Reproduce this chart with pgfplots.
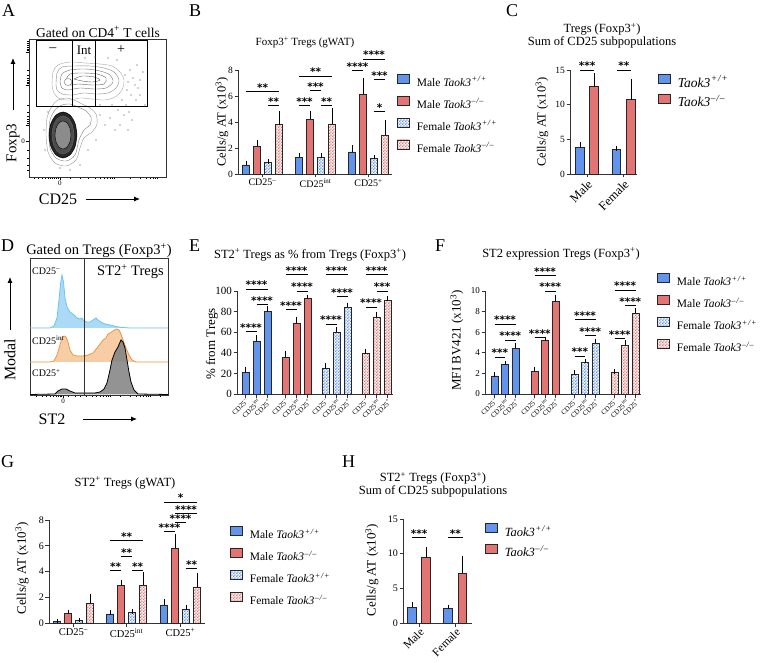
\documentclass[border=0pt]{standalone}
\usepackage{fontspec}
\setmainfont{Liberation Serif}
\newfontfamily\starfont{DejaVu Sans}
\usepackage{pgfplots}
\pgfplotsset{compat=1.18}
\usetikzlibrary{patterns,arrows.meta}

\definecolor{mblue}{RGB}{98,148,236}
\definecolor{mred}{RGB}{226,116,116}
\definecolor{hbluef}{RGB}{170,218,246}
\definecolor{hbluel}{RGB}{110,195,240}
\definecolor{horf}{RGB}{246,205,165}
\definecolor{horl}{RGB}{236,150,65}

\pgfdeclarepatternformonly{chk}{\pgfqpoint{0pt}{0pt}}{\pgfqpoint{3.2pt}{3.2pt}}{\pgfqpoint{3.2pt}{3.2pt}}{%
 \pgfpathrectangle{\pgfqpoint{0pt}{0pt}}{\pgfqpoint{1.6pt}{1.6pt}}%
 \pgfpathrectangle{\pgfqpoint{1.6pt}{1.6pt}}{\pgfqpoint{1.6pt}{1.6pt}}%
 \pgfusepath{fill}}

\newcommand{\fs}[1]{\fontsize{#1}{#1}\selectfont}
\newcommand{\sfnt}{\starfont\bfseries\fontsize{10.5}{10.5}\selectfont}
\newcommand{\wt}{\textit{Taok3}\textsuperscript{\textit{\kern0.5pt+\kern0.8pt/\kern0.8pt+}}}
\newcommand{\ko}{\textit{Taok3}\textsuperscript{\textit{\kern0.5pt–\kern0.8pt/\kern0.8pt–}}}
\newcommand{\sig}[4]{\addplot[sg] coordinates {(#1,#3) (#2,#3)} node[pos=0.5, anchor=base, inner sep=0pt, font=\sfnt] {#4};}

\pgfplotsset{
 gp/.style={scale only axis, clip=false, anchor=south west, axis x line*=bottom, axis y line*=left,
   tick align=outside, ymin=0, axis line style={line width=0.9pt, black!80}, major tick length=3.5pt,
   tick style={line width=0.9pt, black!80}, /pgf/number format/assume math mode=true,
   ticklabel style={inner sep=1.5pt}, legend cell align=left,
   legend style={anchor=north west, draw=none, fill=none, inner sep=0pt, nodes={inner sep=1pt},
     /tikz/every odd column/.append style={column sep=6pt}}},
 bb/.style={ybar, bar shift=0pt, draw=black!85, line width=0.7pt,
   error bars/y dir=plus, error bars/y explicit,
   error bars/error bar style={line width=0.7pt, black},
   error bars/error mark options={line width=0.7pt, black, mark size=2.3pt},
   legend image code/.code={\draw[##1] (0pt,-1pt) rectangle (12pt,8pt);}},
 mwt/.style={bb, fill=mblue},
 mko/.style={bb, fill=mred},
 fwt/.style={bb, pattern=chk, pattern color=mblue},
 fko/.style={bb, pattern=chk, pattern color=mred},
 sg/.style={black, line width=0.75pt, forget plot, mark=none, sharp plot},
 flow/.style={scale only axis, clip=false, anchor=south west, axis line style={line width=0.8pt, black!80},
   tick pos=left, tick align=outside, major tick length=3pt, minor tick length=1.6pt,
   tick style={line width=0.6pt, black}, /pgf/number format/assume math mode=true,
   ticklabel style={font=\fs{7}, inner sep=1pt}},
}

\begin{document}
\begin{tikzpicture}[x=1pt,y=1pt]
\path[use as bounding box] (0,0) rectangle (763,662);

% panel letters
\node[anchor=base west, inner sep=0pt, font=\fs{18}] at (2,645) {A};
\node[anchor=base west, inner sep=0pt, font=\fs{18}] at (189,645) {B};
\node[anchor=base west, inner sep=0pt, font=\fs{18}] at (506,645) {C};
\node[anchor=base west, inner sep=0pt, font=\fs{18}] at (1,410) {D};
\node[anchor=base west, inner sep=0pt, font=\fs{18}] at (189,410) {E};
\node[anchor=base west, inner sep=0pt, font=\fs{18}] at (435,410) {F};
\node[anchor=base west, inner sep=0pt, font=\fs{18}] at (1,195) {G};
\node[anchor=base west, inner sep=0pt, font=\fs{18}] at (342,195) {H};

% ================= A =================
\begin{axis}[flow, at={(29pt,485pt)}, width=137pt, height=138pt,
  xmin=29, xmax=166, ymin=-177, ymax=-39,
  xtick={60}, xticklabels={0}, ytick={-141,-125,-85,-52}, yticklabels={0,,,},
  minor xtick={34,38,42,45,48,50,52,54,56,58,70,80,88,95,100,104,107,110,112,114,130,140,146,150,153,155,157},
  minor ytick={-41,-43,-45,-47,-49,-50,-70,-75,-78,-80,-82,-83,-105,-112,-116,-119,-121,-123,-150,-158,-165,-170}]
\addplot[draw=black!40, line width=0.4pt, smooth] coordinates {(46,-135) (47,-118) (52,-106) (58,-100) (66,-98) (74,-100) (82,-104) (90,-108) (96,-114) (97,-124) (92,-132) (84,-138) (80,-148) (76,-160) (66,-166) (55,-163) (48,-152) (46,-135)};
\addplot[draw=black!50, line width=0.4pt, smooth] coordinates {(49,-135) (50,-120) (55,-110) (62,-105) (70,-104) (78,-107) (86,-111) (91,-117) (90,-125) (84,-130) (79,-140) (75,-155) (66,-161) (56,-158) (50,-148) (49,-135)};
\addplot[draw=black, fill=black!85, line width=0.5pt, smooth] coordinates {(77,-135) (75.1,-146.5) (70,-154.9) (63,-158) (56,-154.9) (50.9,-146.5) (49,-135) (50.9,-123.5) (56,-115.1) (63,-112) (70,-115.1) (75.1,-123.5) (77,-135)};
\addplot[draw=black!60, fill=black!70, line width=0.4pt, smooth] coordinates {(74,-135) (72.5,-144.5) (68.5,-151.5) (63,-154) (57.5,-151.5) (53.5,-144.5) (52,-135) (53.5,-125.5) (57.5,-118.5) (63,-116) (68.5,-118.5) (72.5,-125.5) (74,-135)};
\addplot[draw=black, fill=black!45, line width=0.4pt, smooth] coordinates {(71,-135) (69.9,-142) (67,-147.1) (63,-149) (59,-147.1) (56.1,-142) (55,-135) (56.1,-128) (59,-122.9) (63,-121) (67,-122.9) (69.9,-128) (71,-135)};
\addplot[draw=black!35, line width=0.4pt, smooth] coordinates {(52,-85) (53,-72) (58,-65) (70,-62) (85,-63) (100,-64) (112,-66) (120,-72) (124,-80) (122,-90) (115,-97) (105,-100) (92,-99) (80,-98) (70,-100) (60,-99) (54,-93) (52,-85)};
\addplot[draw=black!45, line width=0.4pt, smooth] coordinates {(56,-84) (57,-73) (62,-67) (75,-66) (90,-66) (104,-68) (114,-72) (119,-80) (116,-88) (108,-93) (96,-94) (84,-93) (72,-95) (62,-94) (57,-90) (56,-84)};
\addplot[draw=black!55, line width=0.4pt, smooth] coordinates {(60,-82) (62,-74) (70,-70) (85,-69) (100,-71) (110,-75) (113,-82) (106,-88) (94,-89) (80,-88) (68,-90) (62,-88) (60,-82)};
\addplot[draw=black!60, line width=0.4pt, smooth] coordinates {(66,-80) (70,-74) (82,-73) (97,-74) (106,-78) (104,-84) (92,-85) (78,-84) (70,-85) (66,-80)};
\addplot[draw=black!65, line width=0.4pt, smooth] coordinates {(74,-79) (82,-76) (94,-77) (100,-80) (93,-82) (82,-81) (74,-79)};
\addplot[draw=black!60, fill=white, line width=0.4pt, smooth] coordinates {(64,-82) (66,-79) (70,-79) (72,-82) (70,-85) (66,-85) (64,-82)};
\addplot[only marks, mark=*, mark size=0.35pt, black!60] coordinates {(125,-75) (128,-82) (130,-70) (127,-90) (133,-78) (135,-85) (122,-100) (126,-105) (131,-95) (138,-88) (118,-110) (124,-115) (129,-112) (136,-100) (140,-80) (132,-120) (120,-125) (115,-130) (110,-118) (100,-115) (105,-125) (96,-140) (88,-150) (80,-165) (70,-170) (60,-168) (45,-150) (44,-130) (48,-112) (100,-105) (112,-105) (117,-60) (108,-58) (95,-57) (85,-58) (140,-95) (143,-72) (137,-65) (145,-105) (128,-130)};
\addplot[black, line width=0.9pt] coordinates {(36,-40) (147,-40) (147,-106) (36,-106) (36,-40)};
\addplot[black, line width=0.9pt] coordinates {(72,-40) (72,-106)};
\addplot[black, line width=0.9pt] coordinates {(95,-40) (95,-106)};
\node[font=\fs{14}] at (axis cs:53,-50) {–};
\node[font=\fs{13}] at (axis cs:84,-50) {Int};
\node[font=\fs{14}] at (axis cs:121,-50) {+};
\node[font=\fs{13.5}] at (axis cs:98,-32) {Gated on CD4\textsuperscript{+} T cells};
\end{axis}
\node[rotate=90, font=\fs{15}] at (13,519) {Foxp3};
\draw[-{Latex[length=6pt,width=5pt]}, line width=0.9pt] (13,552) -- (13,604);
\node[font=\fs{16}] at (58,463) {CD25};
\draw[-{Latex[length=6pt,width=5pt]}, line width=0.9pt] (86,463) -- (140,463);

% ================= D =================
\begin{axis}[flow, at={(30pt,267pt)}, width=138pt, height=137pt,
  xmin=30, xmax=168, ymin=-395, ymax=-258, ytick=\empty,
  xtick={63}, xticklabels={0},
  minor xtick={36,42,46,50,53,56,58,60,61,68,75,80,86,92,96,100,103,106,108,110,120,130,136,140,143,146,148,150,160}]
\addplot[draw=hbluel, fill=hbluef, line width=0.8pt] coordinates {(30,-328) (50,-328) (54,-326) (57,-318) (59,-300) (60.5,-284) (62,-275) (63.5,-282) (65,-298) (67,-307) (70,-312) (74,-315) (77,-318) (80,-319) (82,-318) (84,-321) (87,-322) (90,-322) (93,-320) (96,-318) (98,-320) (101,-322) (105,-324) (110,-325) (116,-326.5) (122,-327.5) (130,-328) (168,-328)};
\addplot[draw=horl, fill=horf, line width=0.8pt] coordinates {(30,-362) (50,-362) (54,-361) (57,-355) (60,-345) (62,-338) (64,-336) (66,-337) (68,-342) (70,-350) (73,-355) (77,-356) (83,-356) (88,-355) (93,-353) (97,-348) (100,-344) (103,-340) (106,-338) (108,-334) (110,-333) (113,-331) (116,-329) (119,-330) (121,-334) (123,-340) (126,-348) (129,-355) (132,-360) (136,-362) (168,-362)};
\addplot[draw=black, fill=black!50, fill opacity=0.85, line width=0.8pt] coordinates {(30,-394.5) (55,-394) (58,-391) (62,-389) (66,-389) (70,-391) (75,-393) (85,-393) (95,-393) (100,-392) (104,-389) (107,-383) (110,-370) (112,-360) (115,-352) (118,-347) (121,-340) (123,-342) (125,-348) (127,-360) (129,-372) (131,-382) (134,-390) (138,-394) (168,-394.5)};
\addplot[black!80, line width=0.8pt] coordinates {(84,-258) (84,-395)};
\node[anchor=west, inner sep=0pt, font=\fs{10}] at (axis cs:32,-271) {CD25\textsuperscript{–}};
\node[anchor=west, inner sep=0pt, font=\fs{14.5}] at (axis cs:97,-272) {ST2\textsuperscript{+} Tregs};
\node[anchor=west, inner sep=0pt, font=\fs{10}] at (axis cs:32,-340) {CD25\textsuperscript{int}};
\node[anchor=west, inner sep=0pt, font=\fs{10}] at (axis cs:32,-373) {CD25\textsuperscript{+}};
\node[font=\fs{14.5}] at (axis cs:99,-251) {Gated on Tregs (Foxp3\textsuperscript{+})};
\end{axis}
\node[rotate=90, font=\fs{16}] at (10,302) {Modal};
\draw[-{Latex[length=6pt,width=5pt]}, line width=0.9pt] (10,332) -- (10,385);
\node[font=\fs{16}] at (52,243) {ST2};
\draw[-{Latex[length=6pt,width=5pt]}, line width=0.9pt] (83,243) -- (137,243);

% ================= B =================
\begin{axis}[gp, at={(238pt,488pt)}, width=154pt, height=104pt,
  xmin=238, xmax=392, ymax=8, ytick={0,2,4,6,8},
  xtick={262.5,315.5,368.5}, xticklabels={CD25\textsuperscript{–},CD25\textsuperscript{int},CD25\textsuperscript{+}},
  yticklabel style={font=\fs{9.5}}, xticklabel style={font=\fs{10}},
  ylabel={Cells/g AT (x10\textsuperscript{3})},
  ylabel style={at={(axis description cs:-0.104,0.5)}, anchor=center, font=\fs{12.5}},
  bar width=7pt,
  legend style={at={(axis description cs:1.032,0.965)}, font=\fs{11.5}, row sep=7pt}]
\addplot[mwt] coordinates {(246,0.7) +- (0,0.15) (299,1.3) +- (0,0.15) (352,1.7) +- (0,0.32)};
\addplot[mko] coordinates {(257,2.15) +- (0,0.3) (310,4.2) +- (0,0.5) (363,6.15) +- (0,1.05)};
\addplot[fwt] coordinates {(268,0.9) +- (0,0.08) (321,1.3) +- (0,0.12) (374,1.2) +- (0,0.12)};
\addplot[fko] coordinates {(279,3.8) +- (0,0.85) (332,3.85) +- (0,1.05) (385,3.0) +- (0,1.0)};
\legend{Male \wt, Male \ko, Female \wt, Female \ko}
\sig{246}{279}{6.38}{**}
\sig{268}{279}{5.3}{**}
\sig{299}{332}{7.54}{**}
\sig{310}{321}{6.46}{***}
\sig{299}{310}{5.3}{***}
\sig{321}{332}{5.3}{**}
\sig{352}{363}{8.0}{****}
\sig{363}{385}{8.85}{****}
\sig{374}{385}{7.3}{***}
\sig{374}{385}{4.8}{*}
\node[font=\fs{11}] at (axis description cs:0.435,1.26) {Foxp3\textsuperscript{+} Tregs (gWAT)};
\end{axis}

% ================= C =================
\begin{axis}[gp, at={(570pt,488pt)}, width=67pt, height=104pt,
  xmin=570, xmax=637, ymax=15, ytick={0,5,10,15},
  xtick={587,623.5}, xticklabels={Male,Female},
  xticklabel style={rotate=45, anchor=north east, font=\fs{12.5}, inner sep=1pt},
  yticklabel style={font=\fs{9.5}},
  ylabel={Cells/g AT (x10\textsuperscript{3})},
  ylabel style={at={(axis description cs:-0.418,0.5)}, anchor=center, font=\fs{12.5}},
  bar width=8.5pt,
  legend style={at={(axis description cs:1.313,0.965)}, font=\fs{13.5}, row sep=4pt}]
\addplot[mwt] coordinates {(580,3.8) +- (0,0.45) (616.5,3.5) +- (0,0.2)};
\addplot[mko] coordinates {(594,12.6) +- (0,1.6) (631,10.7) +- (0,2.7)};
\legend{\wt, \ko}
\sig{580}{594}{15}{***}
\sig{616.5}{631}{15}{**}
\node[font=\fs{12.5}, align=center] at (axis description cs:0.478,1.332) {Tregs (Foxp3\textsuperscript{+})\\Sum of CD25 subpopulations};
\end{axis}

% ================= E =================
\begin{axis}[gp, at={(237pt,268pt)}, width=156pt, height=103pt,
  xmin=237, xmax=393, ymax=100, ytick={0,20,40,60,80,100},
  xtick={245.5,256.5,267.5,285.5,296.5,307.5,325.5,336.5,347.5,365.5,376.5,387.5},
  xticklabels={CD25\textsuperscript{–},CD25\textsuperscript{int},CD25\textsuperscript{+},CD25\textsuperscript{–},CD25\textsuperscript{int},CD25\textsuperscript{+},CD25\textsuperscript{–},CD25\textsuperscript{int},CD25\textsuperscript{+},CD25\textsuperscript{–},CD25\textsuperscript{int},CD25\textsuperscript{+}},
  xticklabel style={rotate=45, anchor=north east, font=\fs{7}, inner sep=0.3pt},
  yticklabel style={font=\fs{11}},
  ylabel={\% from Tregs},
  ylabel style={at={(axis description cs:-0.16,0.485)}, anchor=center, font=\fs{13}},
  bar width=7pt]
\addplot[mwt] coordinates {(245.5,21) +- (0,2.5) (256.5,51) +- (0,4.5) (267.5,80) +- (0,3)};
\addplot[mko] coordinates {(285.5,35.5) +- (0,4) (296.5,69) +- (0,4) (307.5,93) +- (0,1)};
\addplot[fwt] coordinates {(325.5,24.5) +- (0,3) (336.5,60) +- (0,3) (347.5,84.5) +- (0,2)};
\addplot[fko] coordinates {(365.5,39) +- (0,2.5) (376.5,74.5) +- (0,2.5) (387.5,90.5) +- (0,2.5)};
\sig{245.5}{256.5}{61}{****}
\sig{256.5}{267.5}{87}{****}
\sig{245.5}{267.5}{102}{****}
\sig{285.5}{296.5}{82.5}{****}
\sig{296.5}{307.5}{100}{****}
\sig{285.5}{307.5}{116.5}{****}
\sig{325.5}{336.5}{68}{****}
\sig{336.5}{347.5}{95}{****}
\sig{325.5}{347.5}{116.5}{****}
\sig{365.5}{376.5}{84.5}{****}
\sig{376.5}{387.5}{100}{***}
\sig{365.5}{387.5}{116.5}{****}
\node[font=\fs{12.5}] at (axis description cs:0.468,1.35) {ST2\textsuperscript{+} Tregs as \% from Tregs (Foxp3\textsuperscript{+})};
\end{axis}

% ================= F =================
\begin{axis}[gp, at={(485pt,268pt)}, width=156pt, height=103pt,
  xmin=485, xmax=641, ymax=10, ytick={0,2,4,6,8,10},
  xtick={494.5,505,515.5,534.5,545,555.5,574.5,585,595.5,614.5,625,635.5},
  xticklabels={CD25\textsuperscript{–},CD25\textsuperscript{int},CD25\textsuperscript{+},CD25\textsuperscript{–},CD25\textsuperscript{int},CD25\textsuperscript{+},CD25\textsuperscript{–},CD25\textsuperscript{int},CD25\textsuperscript{+},CD25\textsuperscript{–},CD25\textsuperscript{int},CD25\textsuperscript{+}},
  xticklabel style={rotate=45, anchor=north east, font=\fs{7}, inner sep=0.3pt},
  yticklabel style={font=\fs{9}},
  ylabel={MFI BV421 (x10\textsuperscript{3})},
  ylabel style={at={(axis description cs:-0.18,0.52)}, anchor=center, font=\fs{13}},
  bar width=7pt,
  legend style={at={(axis description cs:1.103,1.175)}, font=\fs{11.5}, row sep=7pt}]
\addplot[mwt] coordinates {(494.5,1.75) +- (0,0.15) (505,2.85) +- (0,0.15) (515.5,4.45) +- (0,0.3)};
\addplot[mko] coordinates {(534.5,2.2) +- (0,0.2) (545,5.2) +- (0,0.15) (555.5,9.0) +- (0,0.4)};
\addplot[fwt] coordinates {(574.5,1.9) +- (0,0.2) (585,3.05) +- (0,0.15) (595.5,4.95) +- (0,0.2)};
\addplot[fko] coordinates {(614.5,2.1) +- (0,0.1) (625,4.75) +- (0,0.25) (635.5,7.85) +- (0,0.25)};
\legend{Male \wt, Male \ko, Female \wt, Female \ko}
\sig{494.5}{505}{3.6}{***}
\sig{505}{515.5}{5.25}{****}
\sig{494.5}{515.5}{6.8}{****}
\sig{534.5}{545}{5.45}{****}
\sig{545}{555.5}{10.0}{****}
\sig{534.5}{555.5}{11.5}{****}
\sig{574.5}{585}{3.7}{***}
\sig{585}{595.5}{5.7}{****}
\sig{574.5}{595.5}{7.2}{****}
\sig{614.5}{625}{5.4}{****}
\sig{625}{635.5}{8.6}{****}
\sig{614.5}{635.5}{10.1}{****}
\node[font=\fs{12.5}] at (axis description cs:0.487,1.36) {ST2 expression Tregs (Foxp3\textsuperscript{+})};
\end{axis}

% ================= G =================
\begin{axis}[gp, at={(49pt,39pt)}, width=156pt, height=103pt,
  xmin=49, xmax=205, ymax=8, ytick={0,2,4,6,8},
  xtick={73.5,126.5,180.5}, xticklabels={CD25\textsuperscript{–},CD25\textsuperscript{int},CD25\textsuperscript{+}},
  yticklabel style={font=\fs{10}}, xticklabel style={font=\fs{10.5}},
  ylabel={Cells/g AT (x10\textsuperscript{3})},
  ylabel style={at={(axis description cs:-0.173,0.53)}, anchor=center, font=\fs{13}},
  bar width=7pt,
  legend style={at={(axis description cs:1.16,0.94)}, font=\fs{11.5}, row sep=7pt}]
\addplot[mwt] coordinates {(57,0.12) +- (0,0.05) (110,0.7) +- (0,0.1) (164,1.4) +- (0,0.25)};
\addplot[mko] coordinates {(68,0.75) +- (0,0.1) (121,2.9) +- (0,0.3) (175,5.8) +- (0,0.95)};
\addplot[fwt] coordinates {(79,0.2) +- (0,0.04) (132,0.8) +- (0,0.08) (186,1.05) +- (0,0.15)};
\addplot[fko] coordinates {(90,1.55) +- (0,0.5) (143,2.95) +- (0,0.85) (197,2.8) +- (0,0.9)};
\legend{Male \wt, Male \ko, Female \wt, Female \ko}
\sig{110}{121}{4.1}{**}
\sig{132}{143}{4.1}{**}
\sig{121}{132}{5.15}{**}
\sig{110}{143}{6.43}{**}
\sig{164}{175}{7.1}{****}
\sig{175}{186}{7.8}{****}
\sig{175}{197}{8.5}{****}
\sig{164}{197}{9.4}{*}
\sig{186}{197}{4.25}{**}
\node[font=\fs{12.5}] at (axis description cs:0.487,1.36) {ST2\textsuperscript{+} Tregs (gWAT)};
\end{axis}

% ================= H =================
\begin{axis}[gp, at={(403pt,39pt)}, width=69pt, height=104pt,
  xmin=403, xmax=472, ymax=15, ytick={0,5,10,15},
  xtick={419,455.25}, xticklabels={Male,Female},
  xticklabel style={rotate=45, anchor=north east, font=\fs{11.5}, inner sep=0.5pt},
  yticklabel style={font=\fs{10}},
  ylabel={Cells/g AT (x10\textsuperscript{3})},
  ylabel style={at={(axis description cs:-0.45,0.51)}, anchor=center, font=\fs{13}},
  bar width=8.5pt,
  legend style={at={(axis description cs:1.188,0.96)}, font=\fs{12.5}, row sep=5pt}]
\addplot[mwt] coordinates {(412,2.3) +- (0,0.4) (448,2.1) +- (0,0.2)};
\addplot[mko] coordinates {(426,9.4) +- (0,1.3) (462.5,7.2) +- (0,2.2)};
\legend{\wt, \ko}
\sig{412}{426}{12.4}{***}
\sig{448}{462.5}{12.4}{**}
\node[font=\fs{12.5}, align=center] at (axis description cs:0.435,1.33) {ST2\textsuperscript{+} Tregs (Foxp3\textsuperscript{+})\\Sum of CD25 subpopulations};
\end{axis}

\end{tikzpicture}
\end{document}
